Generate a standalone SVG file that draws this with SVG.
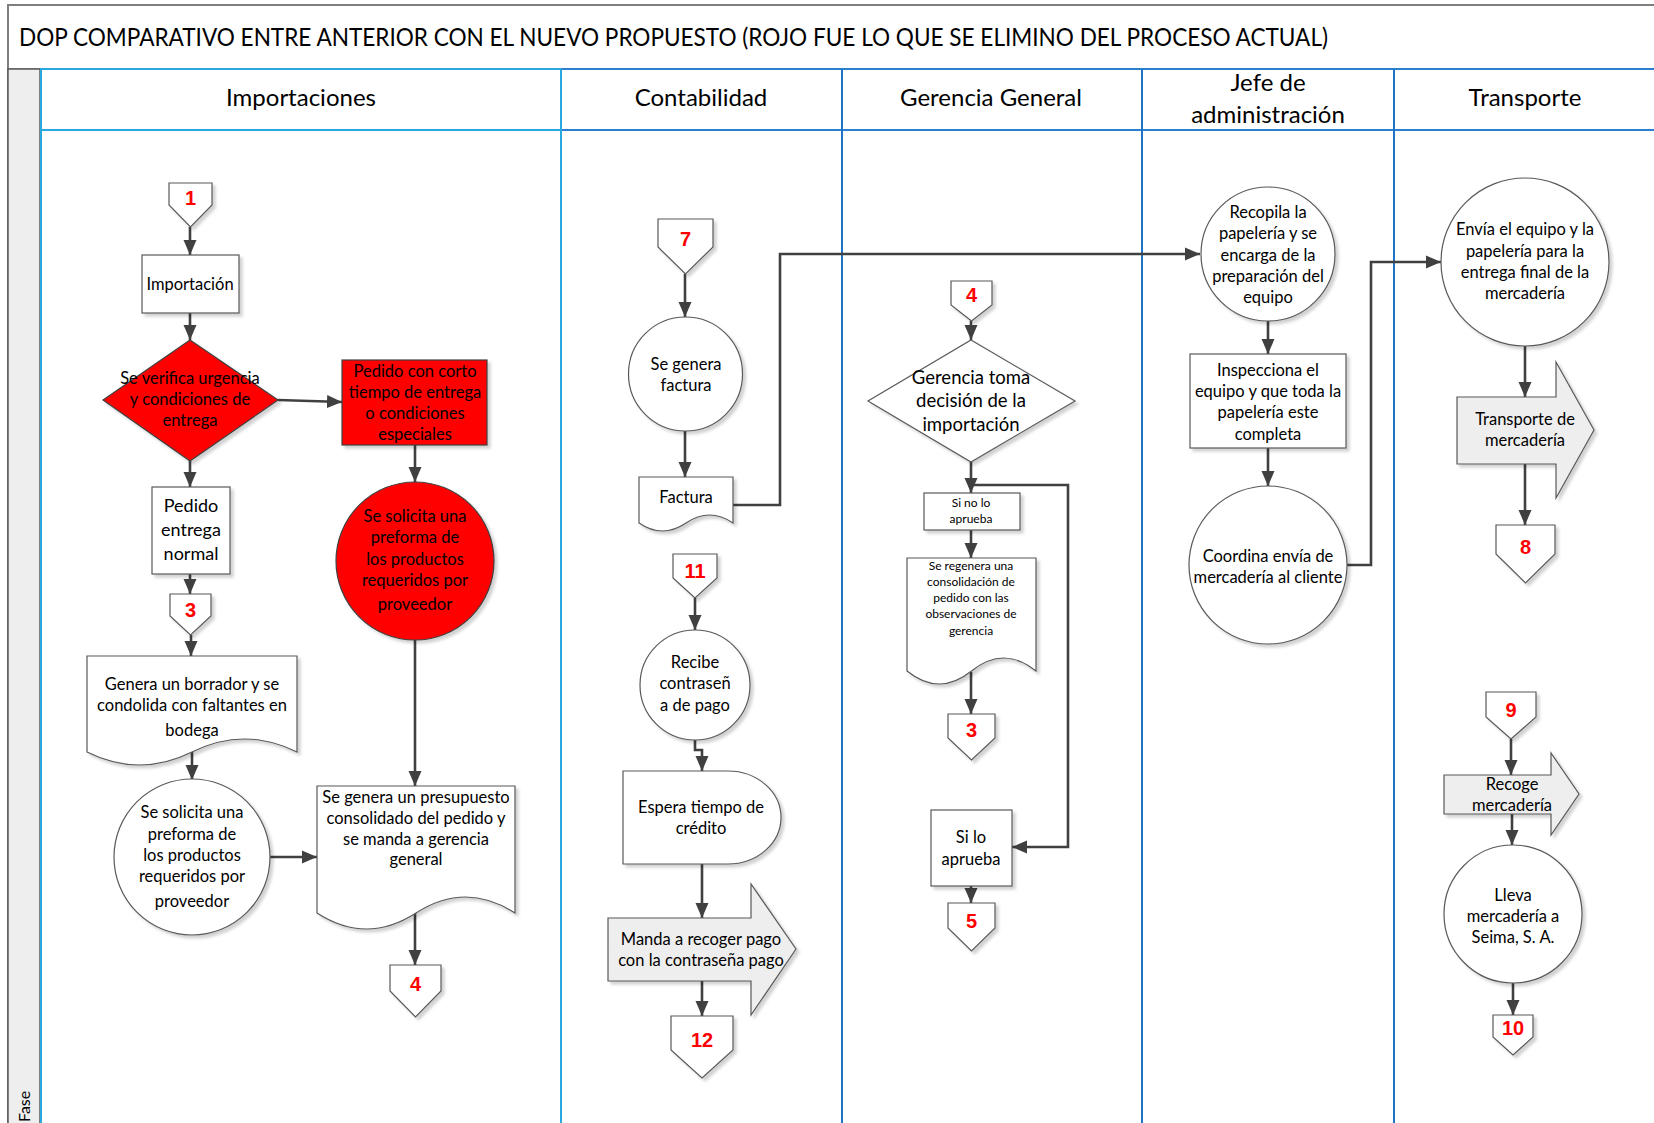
<svg xmlns="http://www.w3.org/2000/svg" width="1654" height="1123" viewBox="0 0 1654 1123">
  <style>
    text { font-family: Lato, "Liberation Sans", sans-serif; fill: #000; }
    .t { font-size: 16.5px; text-anchor: middle; }
    .big { font-size: 18.5px; text-anchor: middle; }
    .sm { font-size: 12px; text-anchor: middle; }
    .hdr { font-size: 24px; text-anchor: middle; }
    .num { font-family: "Liberation Sans", Arial, sans-serif; font-size: 20px; font-weight: bold; fill: #ff0000; text-anchor: middle; }
    .box { fill: #fff; stroke: #595959; stroke-width: 1.2; filter: url(#sh); }
    .red { fill: #ff0000; stroke: #404040; stroke-width: 1.2; filter: url(#sh); }
    .blk { fill: #eeeeee; stroke: #595959; stroke-width: 1.2; filter: url(#sh); }
    .conn { fill: none; stroke: #404040; stroke-width: 2.6; }
    .arr { marker-end: url(#ah); }
  </style>
  <defs>
    <filter id="sh" x="-10%" y="-10%" width="130%" height="130%">
      <feDropShadow dx="3" dy="3" stdDeviation="1.5" flood-color="#000" flood-opacity="0.18"/>
    </filter>
    <marker id="ah" markerUnits="userSpaceOnUse" markerWidth="16" markerHeight="16" viewBox="0 0 16 16" refX="15" refY="8" orient="auto">
      <path d="M0,1.5 L15,8 L0,14.5 Z" fill="#404040"/>
    </marker>
  </defs>

  <rect width="1654" height="1123" fill="#fff"/>

  <!-- frame: title band, phase column, lane headers -->
  <g id="frame">
    <rect x="8" y="5" width="1650" height="1125" fill="none" stroke="#7f7f7f" stroke-width="2"/>
    <line x1="8" y1="69" x2="1654" y2="69" stroke="#7f7f7f" stroke-width="1.5"/>
    <text x="19" y="46" font-size="25" textLength="1309" lengthAdjust="spacingAndGlyphs">DOP COMPARATIVO ENTRE ANTERIOR CON EL NUEVO PROPUESTO (ROJO FUE LO QUE SE ELIMINO DEL PROCESO ACTUAL)</text>
    <rect x="8" y="69" width="32" height="1060" fill="#eeeeee" stroke="#595959" stroke-width="1.5"/>
    <text x="0" y="0" font-size="16" transform="translate(30,1122) rotate(-90)">Fase</text>
    <!-- lane borders -->
    <line x1="40" y1="69" x2="561" y2="69" stroke="#29a8e0" stroke-width="2"/>
    <line x1="561" y1="69" x2="1654" y2="69" stroke="#2a7fcf" stroke-width="2"/>
    <line x1="40" y1="130" x2="561" y2="130" stroke="#29a8e0" stroke-width="2"/>
    <line x1="561" y1="130" x2="1654" y2="130" stroke="#2a7fcf" stroke-width="2"/>
    <line x1="41" y1="69" x2="41" y2="1123" stroke="#29a8e0" stroke-width="2"/>
    <line x1="561" y1="69" x2="561" y2="1123" stroke="#29a8e0" stroke-width="2"/>
    <line x1="842" y1="69" x2="842" y2="1123" stroke="#1f74c6" stroke-width="2"/>
    <line x1="1142" y1="69" x2="1142" y2="1123" stroke="#1f74c6" stroke-width="2"/>
    <line x1="1394" y1="69" x2="1394" y2="1123" stroke="#1f74c6" stroke-width="2"/>
    <text class="hdr" x="301" y="106">Importaciones</text>
    <text class="hdr" x="701" y="106">Contabilidad</text>
    <text class="hdr" x="991" y="106">Gerencia General</text>
    <text class="hdr" x="1268" y="91">Jefe de</text>
    <text class="hdr" x="1268" y="123">administración</text>
    <text class="hdr" x="1525" y="106">Transporte</text>
  </g>

  <!-- connectors -->
  <g id="connectors">
    <path class="conn arr" d="M190,227 V255"/>
    <path class="conn arr" d="M190,313 V340"/>
    <path class="conn arr" d="M278,400 L342,402"/>
    <path class="conn arr" d="M190,461 V487"/>
    <path class="conn arr" d="M190,574 V594"/>
    <path class="conn arr" d="M191,635 V656"/>
    <path class="conn arr" d="M192,752 V780"/>
    <path class="conn arr" d="M270,857 H317"/>
    <path class="conn arr" d="M415,445 V482"/>
    <path class="conn arr" d="M415,640 V786"/>
    <path class="conn arr" d="M415,913 V965"/>
    <path class="conn arr" d="M685,274 V317"/>
    <path class="conn arr" d="M685,431 V477"/>
    <path class="conn arr" d="M733,505 H780 V254 H1200"/>
    <path class="conn arr" d="M695,598 V630"/>
    <path class="conn arr" d="M695,740 V750 H702 V771"/>
    <path class="conn arr" d="M702,864 V918"/>
    <path class="conn arr" d="M702,981 V1016"/>
    <path class="conn arr" d="M971,321 V340"/>
    <path class="conn arr" d="M971,462 V493"/>
    <path class="conn arr" d="M971,485 H1068 V847 H1012"/>
    <path class="conn arr" d="M971,530 V558"/>
    <path class="conn arr" d="M971,672 V714"/>
    <path class="conn arr" d="M971,886 V903"/>
    <path class="conn arr" d="M1268,321 V354"/>
    <path class="conn arr" d="M1268,448 V486"/>
    <path class="conn arr" d="M1347,565 H1371 V262 H1441"/>
    <path class="conn arr" d="M1525,346 V397"/>
    <path class="conn arr" d="M1525,464 V525"/>
    <path class="conn arr" d="M1511,739 V775"/>
    <path class="conn arr" d="M1512,814 V845"/>
    <path class="conn arr" d="M1513,983 V1015"/>
  </g>

  <!-- Importaciones -->
  <g id="ref-1">
    <path class="box" d="M169,183 H212 V205 L190.5,227 L169,205 Z"/>
    <text class="num" x="190.5" y="205">1</text>
  </g>
  <g id="importacion">
    <rect class="box" x="142" y="255" width="97" height="58"/>
    <text class="t" x="190" y="290">Importación</text>
  </g>
  <g id="verifica-urgencia">
    <path class="red" d="M190,340 L278,400 L190,461 L103,400 Z"/>
    <text class="t" x="190"><tspan x="190" y="384">Se verifica urgencia</tspan><tspan x="190" y="405">y condiciones de</tspan><tspan x="190" y="426">entrega</tspan></text>
  </g>
  <g id="pedido-corto">
    <rect class="red" x="342" y="360" width="145" height="85"/>
    <text class="t"><tspan x="415" y="377">Pedido con corto</tspan><tspan x="415" y="398">tiempo de entrega</tspan><tspan x="415" y="419">o condiciones</tspan><tspan x="415" y="440">especiales</tspan></text>
  </g>
  <g id="preforma-roja">
    <circle class="red" cx="415" cy="561" r="79"/>
    <text class="t"><tspan x="415" y="522">Se solicita una</tspan><tspan x="415" y="543">preforma de</tspan><tspan x="415" y="565">los productos</tspan><tspan x="415" y="586">requeridos por</tspan><tspan x="415" y="610">proveedor</tspan></text>
  </g>
  <g id="pedido-normal">
    <rect class="box" x="152" y="487" width="78" height="87"/>
    <text class="big" style="font-size:18px"><tspan x="191" y="512">Pedido</tspan><tspan x="191" y="536">entrega</tspan><tspan x="191" y="560">normal</tspan></text>
  </g>
  <g id="ref-3a">
    <path class="box" d="M170,594 H211 V616 L190.5,635 L170,616 Z"/>
    <text class="num" x="190.5" y="617">3</text>
  </g>
  <g id="borrador">
    <path class="box" d="M87,656 H297 V752 Q244.5,726 192,752 T87,752 Z"/>
    <text class="t"><tspan x="192" y="690">Genera un borrador  y se</tspan><tspan x="192" y="711">condolida con faltantes en</tspan><tspan x="192" y="736">bodega</tspan></text>
  </g>
  <g id="preforma">
    <circle class="box" cx="192" cy="857" r="78"/>
    <text class="t"><tspan x="192" y="818">Se solicita una</tspan><tspan x="192" y="840">preforma de</tspan><tspan x="192" y="861">los productos</tspan><tspan x="192" y="882">requeridos por</tspan><tspan x="192" y="907">proveedor</tspan></text>
  </g>
  <g id="presupuesto">
    <path class="box" d="M317,786 H515 V913 Q465.5,881 416,913 T317,913 Z"/>
    <text class="t"><tspan x="416" y="803">Se genera un presupuesto</tspan><tspan x="416" y="824">consolidado del pedido y</tspan><tspan x="416" y="845">se manda a gerencia</tspan><tspan x="416" y="865">general</tspan></text>
  </g>
  <g id="ref-4a">
    <path class="box" d="M390,965 H441 V991 L415.5,1017 L390,991 Z"/>
    <text class="num" x="415.5" y="991">4</text>
  </g>

  <!-- Contabilidad -->
  <g id="ref-7">
    <path class="box" d="M658,219 H713 V247 L685.5,274 L658,247 Z"/>
    <text class="num" x="685.5" y="246">7</text>
  </g>
  <g id="genera-factura">
    <circle class="box" cx="685.5" cy="374" r="57"/>
    <text class="t"><tspan x="686" y="370">Se genera</tspan><tspan x="686" y="391">factura</tspan></text>
  </g>
  <g id="factura">
    <path class="box" d="M639,477 H733 V523 Q709.5,507 686,523 T639,523 Z"/>
    <text class="t" x="686" y="503">Factura</text>
  </g>
  <g id="ref-11">
    <path class="box" d="M673,554 H717 V578 L695,598 L673,578 Z"/>
    <text class="num" x="695" y="578">11</text>
  </g>
  <g id="recibe-contrasena">
    <circle class="box" cx="695" cy="685" r="55"/>
    <text class="t"><tspan x="695" y="668">Recibe</tspan><tspan x="695" y="689">contraseñ</tspan><tspan x="695" y="711">a de pago</tspan></text>
  </g>
  <g id="espera-credito">
    <path class="box" d="M623,771 H728 A53,46.5 0 0 1 728,864 H623 Z"/>
    <text class="t"><tspan x="701" y="813">Espera tiempo de</tspan><tspan x="701" y="834">crédito</tspan></text>
  </g>
  <g id="manda-recoger">
    <path class="blk" d="M608,918 H751 V884 L796,949 L751,1015 V981 H608 Z"/>
    <text class="t"><tspan x="701" y="945">Manda a recoger pago</tspan><tspan x="701" y="966">con la contraseña pago</tspan></text>
  </g>
  <g id="ref-12">
    <path class="box" d="M671,1016 H733 V1050 L702,1078 L671,1050 Z"/>
    <text class="num" x="702" y="1047">12</text>
  </g>

  <!-- Gerencia General -->
  <g id="ref-4b">
    <path class="box" d="M951,281 H992 V305 L971.5,321 L951,305 Z"/>
    <text class="num" x="971.5" y="302">4</text>
  </g>
  <g id="decision">
    <path class="box" d="M971,340 L1075,401 L971,462 L868,401 Z"/>
    <text class="big"><tspan x="971" y="384">Gerencia toma</tspan><tspan x="971" y="407">decisión de la</tspan><tspan x="971" y="431">importación</tspan></text>
  </g>
  <g id="no-aprueba">
    <rect class="box" x="924" y="493" width="96" height="37"/>
    <text class="sm"><tspan x="971" y="507">Si no lo</tspan><tspan x="971" y="523">aprueba</tspan></text>
  </g>
  <g id="regenera">
    <path class="box" d="M907,558 H1036 V671 Q1003.75,645 971.5,671 T907,671 Z"/>
    <text class="sm"><tspan x="971" y="570">Se regenera una</tspan><tspan x="971" y="586">consolidación de</tspan><tspan x="971" y="602">pedido con las</tspan><tspan x="971" y="618">observaciones de</tspan><tspan x="971" y="635">gerencia</tspan></text>
  </g>
  <g id="ref-3b">
    <path class="box" d="M948,714 H995 V738 L971.5,760 L948,738 Z"/>
    <text class="num" x="971.5" y="737">3</text>
  </g>
  <g id="si-aprueba">
    <rect class="box" x="931" y="810" width="81" height="76"/>
    <text class="t"><tspan x="971" y="843">Si lo</tspan><tspan x="971" y="865">aprueba</tspan></text>
  </g>
  <g id="ref-5">
    <path class="box" d="M948,903 H995 V928 L971.5,951 L948,928 Z"/>
    <text class="num" x="971.5" y="928">5</text>
  </g>

  <!-- Jefe de administracion -->
  <g id="recopila">
    <circle class="box" cx="1268" cy="254" r="67"/>
    <text class="t"><tspan x="1268" y="218">Recopila la</tspan><tspan x="1268" y="239">papelería y se</tspan><tspan x="1268" y="261">encarga de la</tspan><tspan x="1268" y="282">preparación del</tspan><tspan x="1268" y="303">equipo</tspan></text>
  </g>
  <g id="inspecciona">
    <rect class="box" x="1190" y="354" width="156" height="94"/>
    <text class="t"><tspan x="1268" y="376">Inspecciona el</tspan><tspan x="1268" y="397">equipo y que toda la</tspan><tspan x="1268" y="418">papelería este</tspan><tspan x="1268" y="440">completa</tspan></text>
  </g>
  <g id="coordina">
    <circle class="box" cx="1268" cy="565" r="79"/>
    <text class="t"><tspan x="1268" y="562">Coordina envía de</tspan><tspan x="1268" y="583">mercadería al cliente</tspan></text>
  </g>

  <!-- Transporte -->
  <g id="envia">
    <circle class="box" cx="1525" cy="262" r="84"/>
    <text class="t"><tspan x="1525" y="235">Envía el equipo y la</tspan><tspan x="1525" y="257">papelería para la</tspan><tspan x="1525" y="278">entrega final de la</tspan><tspan x="1525" y="299">mercadería</tspan></text>
  </g>
  <g id="transporte-mercaderia">
    <path class="blk" d="M1457,397 H1556 V362 L1594,430 L1556,498 V464 H1457 Z"/>
    <text class="t"><tspan x="1525" y="425">Transporte de</tspan><tspan x="1525" y="446">mercadería</tspan></text>
  </g>
  <g id="ref-8">
    <path class="box" d="M1496,525 H1555 V554 L1525.5,583 L1496,554 Z"/>
    <text class="num" x="1525.5" y="554">8</text>
  </g>
  <g id="ref-9">
    <path class="box" d="M1486,692 H1536 V717 L1511,739 L1486,717 Z"/>
    <text class="num" x="1511" y="717">9</text>
  </g>
  <g id="recoge">
    <path class="blk" d="M1444,775 H1551 V753 L1579,794 L1551,835 V814 H1444 Z"/>
    <text class="t"><tspan x="1512" y="790">Recoge</tspan><tspan x="1512" y="811">mercadería</tspan></text>
  </g>
  <g id="lleva">
    <circle class="box" cx="1513" cy="914" r="69"/>
    <text class="t"><tspan x="1513" y="901">Lleva</tspan><tspan x="1513" y="922">mercadería a</tspan><tspan x="1513" y="943">Seima, S. A.</tspan></text>
  </g>
  <g id="ref-10">
    <path class="box" d="M1493,1015 H1533 V1037 L1513,1055 L1493,1037 Z"/>
    <text class="num" x="1513" y="1035">10</text>
  </g>
</svg>
